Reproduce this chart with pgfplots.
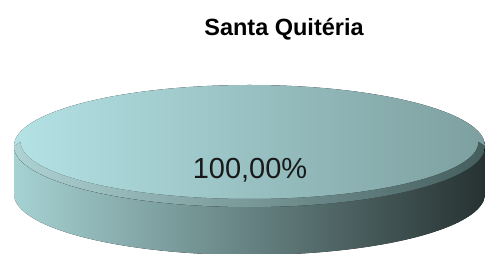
\documentclass[border=0pt]{standalone}
\usepackage{pgfplots}
\pgfplotsset{compat=1.18}
\usepackage{pgfplotstable}
\usepackage{fontspec}
\setmainfont{Liberation Sans}
\pgfplotstableread{
label value
Santa 100
}\piedata
\pgfplotstablegetelem{0}{value}\of{\piedata}
\let\pieval\pgfplotsretval
\definecolor{topL}{HTML}{B4E2E5}
\definecolor{topR}{HTML}{7D9F9F}
\definecolor{rimL}{HTML}{C8F2F3}
\definecolor{rimR}{HTML}{4E6A6A}
\definecolor{sideL}{HTML}{A6D2D3}
\definecolor{sideM}{HTML}{627F7F}
\definecolor{sideR}{HTML}{263231}
\begin{document}
\begin{tikzpicture}
\begin{axis}[
  scale only axis, width=485pt, height=254pt,
  xmin=0, xmax=485, ymin=0, ymax=254,
  hide axis, clip=true]
\path (axis cs:0,0) rectangle (axis cs:485,254);
% side of the disc
\fill[left color=sideL, middle color=sideM, right color=sideR]
  (axis cs:14,108) -- (axis cs:14,60)
  arc[start angle=180, end angle=360, x radius=235.5pt, y radius=61pt]
  -- (axis cs:485,108)
  arc[start angle=360, end angle=180, x radius=235.5pt, y radius=61pt] -- cycle;
% top surface
\fill[left color=topL, right color=topR]
  (axis cs:249.5,108) ellipse [x radius=235.5pt, y radius=61pt];
% front bevel (crescent)
\fill[left color=rimL, right color=rimR, opacity=0.85]
  (axis cs:14,108)
  arc[start angle=180, end angle=360, x radius=235.5pt, y radius=61pt]
  -- (axis cs:478.5,112)
  arc[start angle=360, end angle=180, x radius=229pt, y radius=57pt] -- cycle;
\node[font=\fontsize{29}{31}\selectfont, text=black!90] at (axis cs:250,84)
  {\pgfmathprintnumber[fixed, fixed zerofill, precision=2, use comma, assume math mode=true]{\pieval}\%};
\node[font=\fontsize{23.5}{26}\selectfont\bfseries] at (axis cs:284,225) {Santa Quitéria};
\end{axis}
\end{tikzpicture}
\end{document}
